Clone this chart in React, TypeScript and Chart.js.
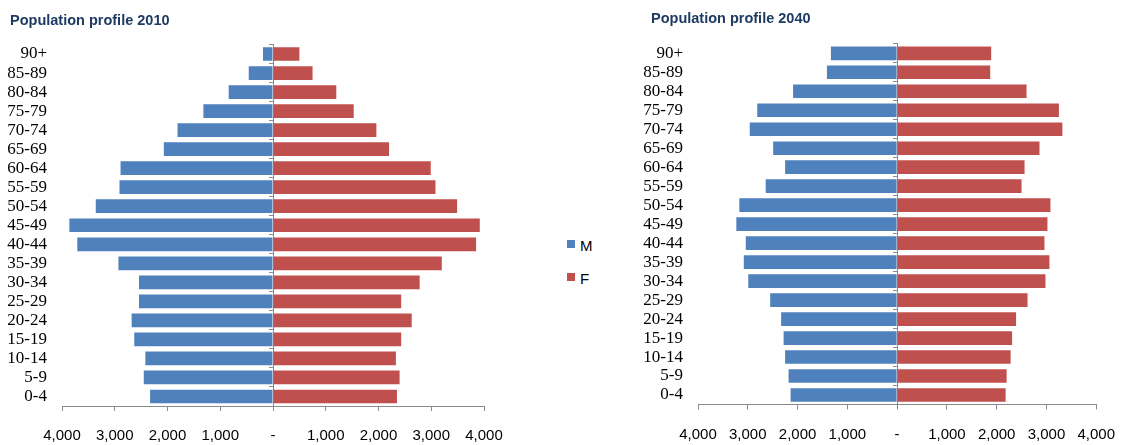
import React, { useEffect, useRef } from "react";
import { Chart, registerables } from "chart.js";

Chart.register(...registerables);

const AGE_GROUPS = [
  "90+", "85-89", "80-84", "75-79", "70-74", "65-69", "60-64", "55-59", "50-54",
  "45-49", "40-44", "35-39", "30-34", "25-29", "20-24", "15-19", "10-14", "5-9", "0-4",
];

const MALE_2010 = [190, 460, 840, 1320, 1810, 2070, 2890, 2910, 3360, 3860, 3710, 2930, 2540, 2540, 2680, 2630, 2420, 2450, 2330];
const FEMALE_2010 = [500, 750, 1200, 1530, 1960, 2200, 2990, 3080, 3490, 3920, 3850, 3200, 2780, 2430, 2630, 2430, 2330, 2400, 2350];

const MALE_2040 = [1330, 1410, 2090, 2810, 2960, 2490, 2250, 2640, 3170, 3230, 3040, 3080, 2990, 2550, 2330, 2280, 2250, 2180, 2140];
const FEMALE_2040 = [1890, 1870, 2600, 3250, 3320, 2860, 2560, 2500, 3080, 3020, 2960, 3060, 2980, 2620, 2390, 2310, 2280, 2200, 2180];

const SERIES_NAMES = ["M", "F"];
const SERIES_COLORS = ["#4F81BD", "#C0504D"];

const X_MIN = -4000;
const X_MAX = 4000;
const X_STEP = 1000;

const AXIS_COLOR = "#8a8a8a";
const TITLE_COLOR = "#1f3b63";

type PyramidProps = {
  title: string;
  male: number[];
  female: number[];
  left: number;
  width: number;
  height: number;
  padTop: number;
  padRight: number;
  padBottom: number;
  yAxisWidth: number;
  labelPad: number;
  titleLeft: number;
  titleTop: number;
};

function formatTick(v: number): string {
  if (v === 0) return "-";
  return Math.abs(v).toLocaleString("en-US");
}

function Pyramid(p: PyramidProps) {
  const ref = useRef<HTMLCanvasElement | null>(null);
  useEffect(() => {
    if (!ref.current) return;
    const chart = new Chart(ref.current, {
      type: "bar",
      data: {
        labels: AGE_GROUPS,
        datasets: [
          {
            label: SERIES_NAMES[0],
            data: p.male.map((v) => -v),
            backgroundColor: SERIES_COLORS[0],
            barPercentage: 0.72,
            categoryPercentage: 1,
          },
          {
            label: SERIES_NAMES[1],
            data: p.female,
            backgroundColor: SERIES_COLORS[1],
            barPercentage: 0.72,
            categoryPercentage: 1,
          },
        ],
      },
      options: {
        indexAxis: "y",
        responsive: false,
        animation: false,
        layout: {
          padding: { left: 0, right: p.padRight, top: p.padTop, bottom: p.padBottom },
        },
        plugins: {
          legend: { display: false },
          tooltip: { enabled: false },
          title: { display: false },
        },
        scales: {
          x: {
            type: "linear",
            stacked: true,
            min: X_MIN,
            max: X_MAX,
            ticks: {
              stepSize: X_STEP,
              padding: 16,
              color: "#000",
              font: { family: "'Liberation Sans', Arial, sans-serif", size: 15 },
              callback: (v: any) => formatTick(Number(v)),
              maxRotation: 0,
            },
            grid: {
              drawOnChartArea: false,
              drawTicks: true,
              tickLength: 5,
              color: AXIS_COLOR,
            },
            border: { display: true, color: AXIS_COLOR },
          },
          y: {
            type: "category",
            stacked: true,
            position: "left",
            grid: { display: false, drawTicks: false },
            border: { display: false },
            ticks: {
              autoSkip: false,
              padding: p.labelPad,
              color: "#000",
              font: { family: "'Liberation Serif', 'Times New Roman', serif", size: 17 },
            },
            afterFit: (s: any) => {
              s.width = p.yAxisWidth;
            },
          },
          y2: {
            type: "category",
            axis: "y",
            position: { x: 0 },
            offset: true,
            ticks: { display: false },
            grid: {
              offset: true,
              drawOnChartArea: false,
              drawTicks: true,
              tickLength: 4,
              color: AXIS_COLOR,
            },
            border: { display: true, color: AXIS_COLOR },
          },
        },
      } as any,
    });
    return () => chart.destroy();
  }, []);
  return (
    <>
      <canvas
        ref={ref}
        width={p.width}
        height={p.height}
        style={{ position: "absolute", left: p.left, top: 0, width: p.width, height: p.height }}
      />
      <div
        style={{
          position: "absolute",
          left: p.titleLeft,
          top: p.titleTop,
          fontFamily: "'Liberation Sans', Arial, sans-serif",
          fontWeight: "bold",
          fontSize: 14.5,
          lineHeight: "17px",
          color: TITLE_COLOR,
          whiteSpace: "nowrap",
        }}
      >
        {p.title}
      </div>
    </>
  );
}

function Legend() {
  const tops = [238, 270.6];
  return (
    <>
      {SERIES_NAMES.map((name, i) => (
        <div key={name}>
          <div
            style={{
              position: "absolute",
              left: 567,
              top: tops[i] + 2.3,
              width: 8,
              height: 8,
              background: SERIES_COLORS[i],
            }}
          />
          <div
            style={{
              position: "absolute",
              left: 580,
              top: tops[i],
              fontFamily: "'Liberation Sans', Arial, sans-serif",
              fontSize: 15,
              lineHeight: "15px",
              color: "#000",
            }}
          >
            {name}
          </div>
        </div>
      ))}
    </>
  );
}

export default function App() {
  return (
    <div
      style={{
        position: "absolute",
        left: 0,
        top: 0,
        width: 1131,
        height: 445,
        background: "#fff",
        overflow: "hidden",
      }}
    >
      <Pyramid
        title="Population profile 2010"
        male={MALE_2010}
        female={FEMALE_2010}
        left={0}
        width={520}
        height={461}
        padTop={44.5}
        padRight={36}
        padBottom={0}
        yAxisWidth={62}
        labelPad={15}
        titleLeft={10}
        titleTop={12}
      />
      <Legend />
      <Pyramid
        title="Population profile 2040"
        male={MALE_2040}
        female={FEMALE_2040}
        left={620}
        width={511}
        height={461}
        padTop={43.8}
        padRight={21}
        padBottom={1.5}
        yAxisWidth={78}
        labelPad={15}
        titleLeft={651}
        titleTop={9.6}
      />
    </div>
  );
}
